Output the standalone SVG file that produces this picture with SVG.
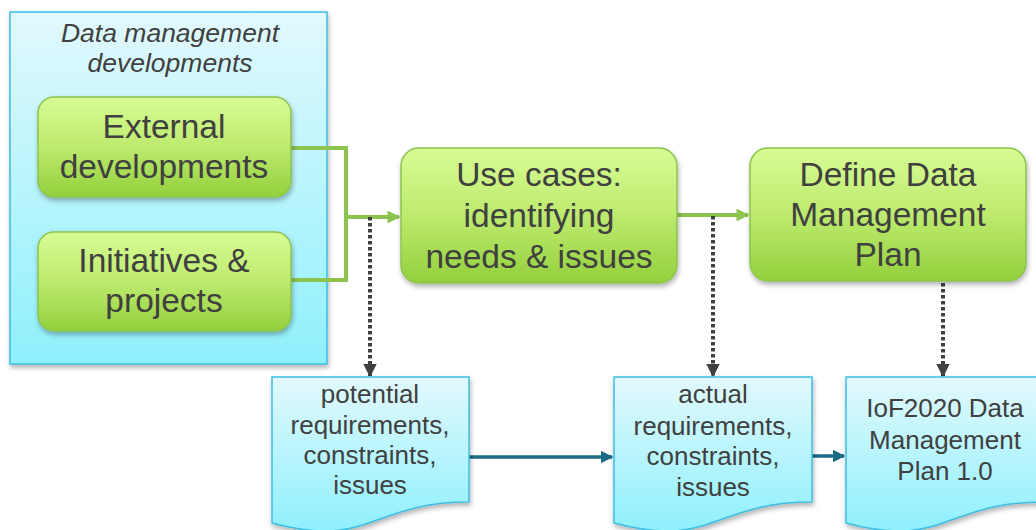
<svg xmlns="http://www.w3.org/2000/svg" width="1036" height="530" viewBox="0 0 1036 530">
<defs>
<linearGradient id="gCyan" x1="0" y1="0" x2="0" y2="1"><stop offset="0" stop-color="#e2f9fd"/><stop offset="1" stop-color="#8ff0fc"/></linearGradient>
<linearGradient id="gGreen" x1="0" y1="0" x2="0" y2="1"><stop offset="0" stop-color="#d8fc94"/><stop offset="0.5" stop-color="#bdea6e"/><stop offset="1" stop-color="#93d03c"/></linearGradient>
<filter id="sh" x="-10%" y="-10%" width="120%" height="130%"><feDropShadow dx="1" dy="3" stdDeviation="2.5" flood-color="#000" flood-opacity="0.3"/></filter>
<marker id="mGreen" viewBox="0 0 10 10" refX="9" refY="5" markerWidth="3.2" markerHeight="3.2" orient="auto" markerUnits="strokeWidth"><path d="M0,0 L10,5 L0,10 Z" fill="#8cc44e"/></marker>
<marker id="mBlue" viewBox="0 0 10 10" refX="9" refY="5" markerWidth="3.6" markerHeight="3.6" orient="auto" markerUnits="strokeWidth"><path d="M0,0 L10,5 L0,10 Z" fill="#1a6a85"/></marker>
<marker id="mGray" viewBox="0 0 10 10" refX="9" refY="5" markerWidth="3.4" markerHeight="3.4" orient="auto" markerUnits="strokeWidth"><path d="M0,0 L10,5 L0,10 Z" fill="#404040"/></marker>
</defs>
<style>
.t{font-family:"Liberation Sans",Arial,sans-serif;fill:#404040;text-anchor:middle}
.big{font-size:33.5px}
.mid{font-size:26px}
.it{font-size:26.5px;font-style:italic}
.gbox{fill:url(#gGreen);stroke:#8cc44e;stroke-width:1.5;filter:url(#sh)}
.doc{fill:url(#gCyan);stroke:#3dbde3;stroke-width:1.5;filter:url(#sh)}
.gl{fill:none;stroke:#8cc44e;stroke-width:4}
.bl{fill:none;stroke:#1a6a85;stroke-width:3.5}
.dl{fill:none;stroke:#404040;stroke-width:4;stroke-dasharray:3.5 2.5}
</style>
<rect width="1036" height="530" fill="#fff"/>
<g id="group-dm">
<rect x="10" y="12" width="317" height="352" fill="url(#gCyan)" stroke="#3dbde3" stroke-width="1.5" filter="url(#sh)"/>
<text class="t it" x="170" y="42">Data management</text>
<text class="t it" x="170" y="72">developments</text>
</g>
<g id="connectors">
<path class="gl" d="M291,148 H346 V280 H291"/>
<path class="gl" d="M346,217 H399" marker-end="url(#mGreen)"/>
<path class="gl" d="M677,215 H748" marker-end="url(#mGreen)"/>
<path class="dl" d="M370,217 V376" marker-end="url(#mGray)"/>
<path class="dl" d="M713,216 V376" marker-end="url(#mGray)"/>
<path class="dl" d="M943,283 V376" marker-end="url(#mGray)"/>
<path class="bl" d="M469,457 H612" marker-end="url(#mBlue)"/>
<path class="bl" d="M812,456 H844" marker-end="url(#mBlue)"/>
</g>
<g id="external">
<rect class="gbox" x="38" y="97" width="253" height="100" rx="16"/>
<text class="t big" x="164" y="138">External</text>
<text class="t big" x="164" y="178">developments</text>
</g>
<g id="initiatives">
<rect class="gbox" x="38" y="232" width="253" height="99" rx="16"/>
<text class="t big" x="164" y="272">Initiatives &amp;</text>
<text class="t big" x="164" y="312">projects</text>
</g>
<g id="usecases">
<rect class="gbox" x="401" y="148" width="276" height="135" rx="18"/>
<text class="t big" x="539" y="186">Use cases:</text>
<text class="t big" x="539" y="227">identifying</text>
<text class="t big" x="539" y="268">needs &amp; issues</text>
</g>
<g id="define">
<rect class="gbox" x="750" y="148" width="276" height="133" rx="18"/>
<text class="t big" x="888" y="186">Define Data</text>
<text class="t big" x="888" y="226">Management</text>
<text class="t big" x="888" y="266">Plan</text>
</g>
<g id="doc-potential">
<path class="doc" d="M272,377 H469 V502 C370.5,502 370.5,549.7 272,523 Z"/>
<text class="t mid" x="370" y="403">potential</text>
<text class="t mid" x="370" y="434">requirements,</text>
<text class="t mid" x="370" y="464">constraints,</text>
<text class="t mid" x="370" y="494">issues</text>
</g>
<g id="doc-actual">
<path class="doc" d="M614,377 H812 V502 C713,502 713,549.7 614,523 Z"/>
<text class="t mid" x="713" y="403">actual</text>
<text class="t mid" x="713" y="435">requirements,</text>
<text class="t mid" x="713" y="465">constraints,</text>
<text class="t mid" x="713" y="496">issues</text>
</g>
<g id="doc-plan">
<path class="doc" d="M846,377 H1043 V502 C944.5,502 944.5,549.7 846,523 Z"/>
<text class="t mid" x="945" y="417">IoF2020 Data</text>
<text class="t mid" x="945" y="449">Management</text>
<text class="t mid" x="945" y="480">Plan 1.0</text>
</g>
</svg>
